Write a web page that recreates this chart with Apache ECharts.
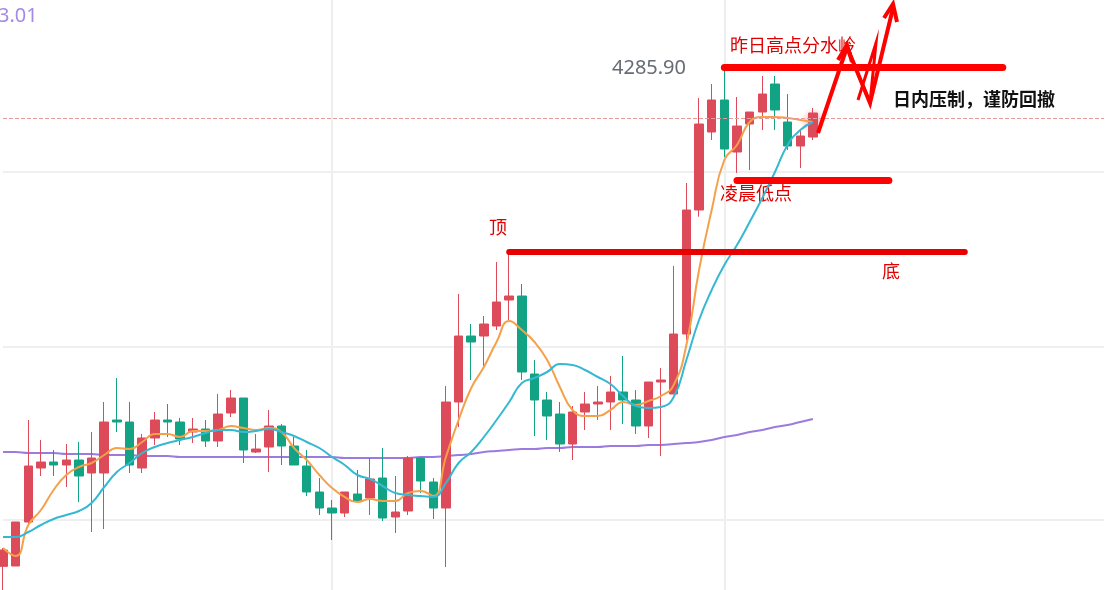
<!DOCTYPE html>
<html>
<head>
<meta charset="utf-8">
<script src="https://cdn.jsdelivr.net/npm/echarts@6/dist/echarts.min.js"></script>
<style>
html, body { margin: 0; padding: 0; background: #fff; }
#box { width: 1112px; height: 590px; }
</style>
</head>
<body>
<div id="box"></div>
<script>
// K线数据 [开, 收, 低, 高]
var candles = [
    [4136.1, 4141.0, 4129.0, 4141.6], [4136.2, 4149.4, 4136.2, 4149.4], [4149.4, 4166.2, 4148.5, 4180.0],
    [4165.6, 4167.4, 4163.2, 4174.0], [4167.4, 4166.5, 4163.2, 4171.0], [4166.5, 4168.0, 4159.9, 4172.8],
    [4168.0, 4163.2, 4155.4, 4173.4], [4164.1, 4168.6, 4146.4, 4176.4], [4164.1, 4179.4, 4147.3, 4185.4],
    [4180.0, 4179.4, 4176.4, 4192.6], [4179.4, 4166.5, 4164.1, 4185.4], [4165.6, 4174.6, 4164.1, 4175.8],
    [4174.6, 4180.0, 4172.5, 4182.4], [4180.0, 4179.4, 4174.9, 4184.8], [4179.4, 4174.3, 4172.5, 4180.6],
    [4176.4, 4177.3, 4173.1, 4180.6], [4177.3, 4173.7, 4171.9, 4180.0], [4173.7, 4181.8, 4171.9, 4187.8],
    [4182.1, 4186.6, 4180.9, 4189.0], [4186.6, 4171.0, 4167.1, 4186.6], [4170.4, 4171.3, 4170.1, 4175.8],
    [4171.9, 4178.2, 4164.4, 4183.0], [4178.2, 4172.2, 4166.5, 4178.8], [4172.2, 4166.5, 4166.5, 4174.9],
    [4166.2, 4158.4, 4157.2, 4171.0], [4158.4, 4153.6, 4151.5, 4162.6], [4153.6, 4152.1, 4144.0, 4156.0],
    [4152.1, 4158.4, 4150.9, 4158.4], [4157.8, 4155.7, 4155.1, 4165.0], [4156.6, 4162.3, 4151.5, 4168.6],
    [4162.6, 4150.6, 4149.7, 4171.6], [4150.9, 4152.4, 4146.1, 4163.2], [4152.7, 4168.6, 4151.5, 4169.2],
    [4168.6, 4161.7, 4158.1, 4168.6], [4161.4, 4153.6, 4150.3, 4162.6], [4153.6, 4185.4, 4135.9, 4190.2],
    [4185.4, 4205.2, 4177.9, 4217.8], [4205.2, 4203.4, 4192.0, 4208.8], [4205.2, 4208.8, 4196.2, 4211.2],
    [4208.2, 4215.4, 4207.0, 4227.4], [4216.0, 4217.2, 4210.0, 4231.0], [4217.2, 4194.4, 4192.0, 4220.8],
    [4193.8, 4186.0, 4175.2, 4198.0], [4186.0, 4181.2, 4174.0, 4188.4], [4181.8, 4172.8, 4170.4, 4185.4],
    [4172.8, 4182.4, 4168.0, 4184.2], [4182.4, 4184.8, 4177.0, 4188.4], [4184.8, 4185.4, 4180.0, 4190.2],
    [4185.4, 4188.4, 4177.0, 4193.2], [4188.4, 4186.0, 4178.8, 4199.2], [4186.0, 4178.2, 4175.8, 4189.0],
    [4178.2, 4191.4, 4174.6, 4191.4], [4191.4, 4192.0, 4169.2, 4195.6], [4187.8, 4205.8, 4187.8, 4226.2],
    [4205.8, 4243.0, 4204.0, 4251.1], [4243.0, 4268.8, 4241.0, 4276.6], [4266.4, 4276.0, 4264.0, 4280.8],
    [4276.0, 4261.3, 4258.9, 4285.9], [4260.4, 4268.2, 4254.1, 4276.9], [4268.8, 4272.4, 4255.0, 4272.4],
    [4272.4, 4277.8, 4267.0, 4283.2], [4280.8, 4273.0, 4267.0, 4283.2], [4269.4, 4262.2, 4261.0, 4277.8],
    [4262.2, 4265.2, 4255.6, 4267.0], [4264.9, 4272.1, 4264.0, 4273.6]
];
var ma5 = [4141.6, 4139.2, 4148.5, 4153.0, 4159.0, 4163.5, 4165.9, 4167.1, 4169.5, 4171.6,
    4171.3, 4173.4, 4175.8, 4175.8, 4174.9, 4176.7, 4176.7, 4177.0, 4178.2, 4177.6,
    4177.0, 4177.6, 4176.4, 4171.6, 4168.0, 4163.5, 4159.6, 4156.9, 4155.4, 4156.3,
    4155.7, 4155.7, 4158.1, 4158.7, 4157.2, 4168.9,
    4180.0, 4189.6, 4195.9, 4203.4, 4209.7, 4207.0, 4203.4, 4198.0, 4189.9, 4183.0,
    4181.2, 4181.2, 4183.0, 4185.4, 4184.5, 4185.7, 4187.2, 4190.5, 4202.5, 4225.0,
    4243.0, 4258.0, 4262.5, 4269.4, 4270.9, 4270.9, 4270.6, 4270.0, 4269.4];
var ma10 = [4144.9, 4144.9, 4146.4, 4148.5, 4150.3, 4151.5, 4152.7, 4155.1, 4159.9, 4164.4,
    4167.1, 4170.1, 4171.9, 4173.1, 4174.0, 4174.9, 4176.1, 4177.0, 4177.0, 4176.4,
    4176.7, 4177.3, 4176.4, 4175.2, 4173.4, 4171.6, 4168.9, 4166.5, 4163.5, 4162.3,
    4160.2, 4158.1, 4157.5, 4157.2, 4156.9, 4161.1,
    4167.1, 4170.4, 4174.9, 4180.0, 4185.4, 4191.1, 4192.6, 4194.4, 4196.8, 4196.5,
    4195.0, 4192.9, 4190.8, 4187.2, 4184.2, 4183.6, 4183.9, 4186.9, 4198.0, 4210.0,
    4219.0, 4226.5, 4232.5, 4239.4, 4246.6, 4254.4, 4262.5, 4267.0, 4269.4];
var ma60 = [4170.4, 4170.4, 4170.1, 4170.1, 4170.1, 4169.8, 4169.8, 4169.8, 4169.5, 4169.5,
    4169.5, 4169.2, 4169.2, 4169.2, 4168.9, 4168.9, 4168.9, 4168.9, 4168.9, 4168.9,
    4168.9, 4168.9, 4168.9, 4168.9, 4168.9, 4168.9, 4168.9, 4168.6, 4168.6, 4168.6,
    4168.6, 4168.6, 4168.6, 4168.9, 4168.9, 4169.2,
    4169.5, 4169.8, 4170.4, 4170.7, 4171.0, 4171.3, 4171.3, 4171.6, 4171.6, 4171.9,
    4171.9, 4171.9, 4172.2, 4172.2, 4172.2, 4172.5, 4172.5, 4172.8, 4173.1, 4173.4,
    4174.0, 4174.9, 4175.5, 4176.4, 4177.0, 4177.9, 4178.5, 4179.4, 4180.3];
var gridPrices = [4150.0, 4201.9, 4254.4];  // 水平网格线
var totalBars = 88;  // 右侧留白给画线
var yesterdayHigh = 4285.9;
var nightLow = 4252.0;
var topLine = 4230.4;
var lastPrice = 4270.6;

var cats = [];
for (var i = 0; i < totalBars; i++) cats.push(String(i));

var lineRed = { color: '#ff0000', width: 7, type: 'solid', cap: 'round' };

var gridLines = gridPrices.map(function (v) {
    return { yAxis: v, lineStyle: { color: '#efefef', type: 'solid', width: 2 } };
});

var myChart = echarts.init(document.getElementById('box'));
var option = {
    backgroundColor: '#fff',
    animation: false,
    grid: { left: 3, right: 8, top: 0, bottom: 0 },
    xAxis: {
        type: 'category',
        data: cats,
        boundaryGap: false,
        axisLine: { show: false },
        axisTick: { show: false },
        axisLabel: { show: false },
        splitLine: {
            show: true,
            interval: function (idx) { return idx === 26 || idx === 57; },
            lineStyle: { color: '#eeeeee', width: 2 }
        }
    },
    yAxis: {
        type: 'value',
        min: 4129,
        max: 4306,
        axisLine: { show: false },
        axisTick: { show: false },
        axisLabel: { show: false },
        splitLine: { show: false }
    },
    series: [{
        type: 'line', data: ma60, symbol: 'none', smooth: true,
        lineStyle: { color: '#9b7be0', width: 2 }, z: 2,
        markLine: { symbol: 'none', silent: true, label: { show: false }, data: gridLines, z: 1 }
    }, {
        type: 'candlestick',
        data: candles,
        barWidth: 9,
        itemStyle: {
            color: '#dd4a5a', color0: '#12a385',
            borderColor: '#dd4a5a', borderColor0: '#12a385', borderWidth: 1
        },
        z: 3,
        markLine: {
            symbol: 'none', silent: true,
            label: { show: false },
            data: [
                { yAxis: lastPrice, lineStyle: { color: '#e79a9a', type: 'dashed', width: 1 } },
                [{ coord: ['57', yesterdayHigh], lineStyle: lineRed }, { coord: ['79', yesterdayHigh] }],
                [{ coord: ['58', nightLow], lineStyle: lineRed }, { coord: ['70', nightLow] }],
                [{ coord: ['40', topLine], lineStyle: { color: '#e60000', width: 6, type: 'solid', cap: 'round' } }, { coord: ['76', topLine] }],
                [{ coord: ['55', yesterdayHigh], lineStyle: { color: '#333', type: 'dotted', width: 2 } }, { coord: ['56.6', yesterdayHigh] }]
            ]
        }
    }, {
        type: 'line', data: ma5, symbol: 'none', smooth: true,
        lineStyle: { color: '#f5a04a', width: 2 }, z: 4
    }, {
        type: 'line', data: ma10, symbol: 'none', smooth: true,
        lineStyle: { color: '#36b8d2', width: 2 }, z: 4
    }],
    graphic: [
        { type: 'text', left: -2, top: 6, style: { text: '3.01', fill: '#a48ae6', font: '20px "Noto Sans"' } },
        { type: 'text', left: 612, top: 58, style: { text: '4285.90', fill: '#666b75', font: '20px "Noto Sans"' } },
        { type: 'text', left: 730, top: 36, style: { text: '昨日高点分水岭', fill: '#e00000', font: '18px "Noto Sans CJK SC"' } },
        { type: 'text', left: 720, top: 184, style: { text: '凌晨低点', fill: '#e00000', font: '18px "Noto Sans CJK SC"' } },
        { type: 'text', left: 489, top: 218, style: { text: '顶', fill: '#e00000', font: '18px "Noto Sans CJK SC"' } },
        { type: 'text', left: 882, top: 262, style: { text: '底', fill: '#e00000', font: '18px "Noto Sans CJK SC"' } },
        { type: 'text', left: 893, top: 90, style: { text: '日内压制，谨防回撤', fill: '#111', font: 'bold 18px "Noto Sans CJK SC"' } },
        {
            type: 'circle', shape: { cx: 813, cy: 121, r: 14 },
            style: { fill: new echarts.graphic.RadialGradient(0.5, 0.5, 0.5, [
                { offset: 0, color: 'rgba(230,80,100,0.7)' }, { offset: 1, color: 'rgba(255,200,210,0)' }]) }
        },
        {
            type: 'polyline', z: 10,
            shape: { points: [[818, 133], [847, 47], [870, 103], [893, 8]] },
            style: { stroke: '#ff0000', lineWidth: 4, fill: null }
        },
        {
            type: 'polyline', z: 10,
            shape: { points: [[858, 100], [876, 43], [870, 103], [849, 52]] },
            style: { stroke: '#ff0000', lineWidth: 3, fill: null }
        },
        { type: 'polyline', z: 10, shape: { points: [[838, 60], [847, 45], [852, 62]] }, style: { stroke: '#ff0000', lineWidth: 4, fill: null } },
        { type: 'polyline', z: 10, shape: { points: [[884, 18], [893, 4], [897, 22]] }, style: { stroke: '#ff0000', lineWidth: 4, fill: null } }
    ]
};
myChart.setOption(option);
</script>
</body>
</html>
